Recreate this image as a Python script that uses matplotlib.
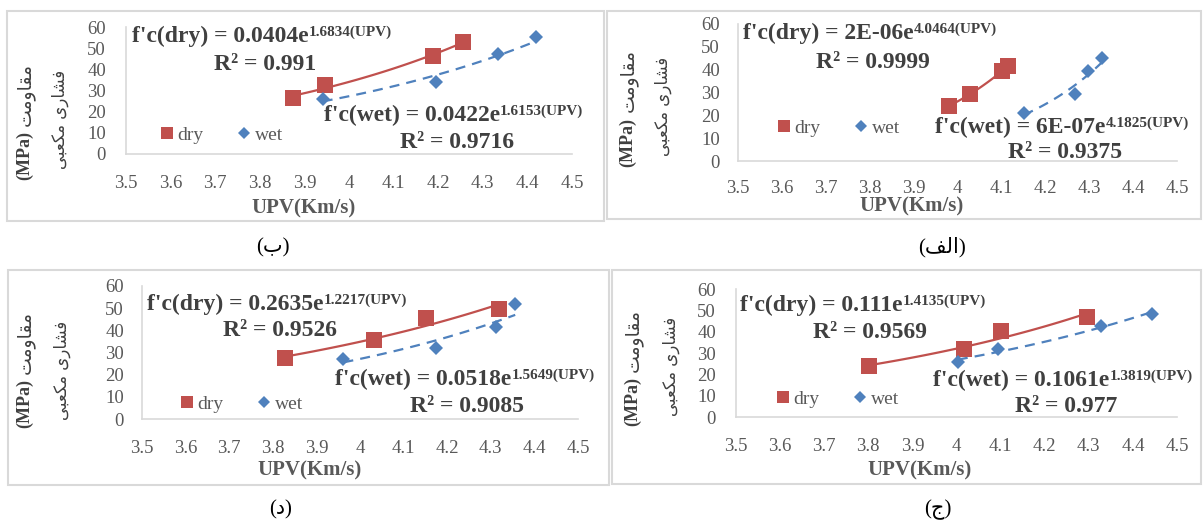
import numpy as np
import matplotlib.pyplot as plt
from matplotlib.lines import Line2D
from matplotlib.patches import Rectangle

plt.rcParams['font.family'] = ['Liberation Serif', 'DejaVu Sans']

W, H = 1203, 525
DRY = '#C0504D'
WET = '#4F81BD'
TXT = '#404040'
TICK = '#595959'
LINE = '#D9D9D9'

x_ticks = [3.5, 3.6, 3.7, 3.8, 3.9, 4.0, 4.1, 4.2, 4.3, 4.4, 4.5]
x_tick_labels = ['3.5', '3.6', '3.7', '3.8', '3.9', '4', '4.1', '4.2', '4.3', '4.4', '4.5']
y_ticks = [0, 10, 20, 30, 40, 50, 60]
x_label = 'UPV(Km/s)'
legend_labels = ['dry', 'wet']

# Persian text, already in visual order with presentation forms
ylab_unit = '(MPa)'
ylab_word = '\uFE96\uFEE3\uFEED\uFE8E\uFED8\uFEE3'                       # مقاومت
ylab_line2 = '\uFEF0\uFE92\uFECC\uFB91\uFEE3 \uFEEF\uFEAD\uFE8E\uFEB8\uFED3'  # فشاری مکعبی

# panel (ب) - top left
b_dry_x = [3.874, 3.946, 4.188, 4.256]
b_dry_y = [26.5, 32.6, 46.3, 52.8]
b_wet_x = [3.941, 4.195, 4.334, 4.419]
b_wet_y = [25.8, 34.2, 47.2, 55.1]
b_dry_eq = ["f'c(dry) = 0.0404e", '1.6834(UPV)', 'R² = 0.991']
b_wet_eq = ["f'c(wet) = 0.0422e", '1.6153(UPV)', 'R² = 0.9716']
b_caption = '(\uFE8F)'

# panel (الف) - top right
a_dry_x = [3.981, 4.028, 4.101, 4.115]
a_dry_y = [24.1, 29.3, 39.4, 41.6]
a_wet_x = [4.151, 4.268, 4.297, 4.329]
a_wet_y = [20.9, 29.2, 39.6, 45.2]
a_dry_eq = ["f'c(dry) = 2E-06e", '4.0464(UPV)', 'R² = 0.9999']
a_wet_eq = ["f'c(wet) = 6E-07e", '4.1825(UPV)', 'R² = 0.9375']
a_caption = '(\uFED2\uFEDF\uFE8D)'

# panel (د) - bottom left
d_dry_x = [3.828, 4.032, 4.151, 4.319]
d_dry_y = [27.7, 35.5, 45.6, 49.5]
d_wet_x = [3.962, 4.174, 4.312, 4.356]
d_wet_y = [26.9, 32.2, 41.5, 52.0]
d_dry_eq = ["f'c(dry) = 0.2635e", '1.2217(UPV)', 'R² = 0.9526']
d_wet_eq = ["f'c(wet) = 0.0518e", '1.5649(UPV)', 'R² = 0.9085']
d_caption = '(\uFEA9)'

# panel (ج) - bottom right
j_dry_x = [3.801, 4.017, 4.102, 4.297]
j_dry_y = [23.9, 31.7, 40.3, 46.9]
j_wet_x = [4.003, 4.093, 4.328, 4.444]
j_wet_y = [25.8, 32.0, 42.5, 48.4]
j_dry_eq = ["f'c(dry) = 0.111e", '1.4135(UPV)', 'R² = 0.9569']
j_wet_eq = ["f'c(wet) = 0.1061e", '1.3819(UPV)', 'R² = 0.977']
j_caption = '(\uFE9D)'

panels = [
    dict(dry=(b_dry_x, b_dry_y), wet=(b_wet_x, b_wet_y), deq=b_dry_eq, weq=b_wet_eq, cap=b_caption,
         ax=(126, 27, 572, 154), box=(7, 11, 604, 221), cap_xy=(273, 248), xlab=(304, 208),
         unit=(25, 156), word=(25, 95), line2=(60, 119), ypad=20, xpad=15,
         deq_xy=(132, 36), dr2=(265, 65), weq_xy=(324, 115), wr2=(457, 142), leg=(159, 135)),
    dict(dry=(a_dry_x, a_dry_y), wet=(a_wet_x, a_wet_y), deq=a_dry_eq, weq=a_wet_eq, cap=a_caption,
         ax=(738, 24, 1177, 161), box=(607, 11, 1201, 219), cap_xy=(942, 247), xlab=(912, 206),
         unit=(628, 142), word=(628, 80), line2=(663, 106), ypad=18, xpad=14,
         deq_xy=(743, 33), dr2=(873, 62), weq_xy=(935, 127), wr2=(1065, 153), leg=(776, 128)),
    dict(dry=(d_dry_x, d_dry_y), wet=(d_wet_x, d_wet_y), deq=d_dry_eq, weq=d_wet_eq, cap=d_caption,
         ax=(142, 286, 578, 419), box=(8, 270, 609, 485), cap_xy=(281, 510), xlab=(310, 470),
         unit=(25, 403), word=(25, 342), line2=(62, 370), ypad=18, xpad=15,
         deq_xy=(147, 304), dr2=(280, 330), weq_xy=(335, 379), wr2=(467, 407), leg=(179, 404)),
    dict(dry=(j_dry_x, j_dry_y), wet=(j_wet_x, j_wet_y), deq=j_dry_eq, weq=j_wet_eq, cap=j_caption,
         ax=(736, 289, 1177, 417), box=(612, 270, 1201, 484), cap_xy=(938, 510), xlab=(920, 470),
         unit=(633, 401), word=(633, 340), line2=(671, 366), ypad=20, xpad=15,
         deq_xy=(740, 305), dr2=(870, 332), weq_xy=(933, 380), wr2=(1066, 407), leg=(775, 399)),
]

fig = plt.figure(figsize=(W / 100, H / 100), dpi=100)


def fx(x):
    return x / W


def fy(y):
    return 1 - y / H


def equation(ax, pos, parts):
    main = fig.text(fx(pos[0]), fy(pos[1]), parts[0], ha='left', va='center',
                    fontsize=17, fontweight='bold', color=TXT)
    ax.annotate(parts[1], xy=(1, 0.5), xycoords=main, xytext=(0, 3), textcoords='offset points',
                ha='left', va='center', fontsize=11, fontweight='bold', color=TXT)


for p in panels:
    l, t, r, b = p['ax']
    ax = fig.add_axes([fx(l), fy(b), (r - l) / W, (b - t) / H])
    ax.set_xlim(3.5, 4.5)
    ax.set_ylim(0, 60)
    ax.set_facecolor('none')
    for s in ['top', 'right']:
        ax.spines[s].set_visible(False)
    for s in ['left', 'bottom']:
        ax.spines[s].set_color(LINE)
        ax.spines[s].set_linewidth(1.2)
    ax.set_xticks(x_ticks)
    ax.set_xticklabels(x_tick_labels)
    ax.set_yticks(y_ticks)
    ax.tick_params(length=0, labelsize=13.5, labelcolor=TICK)
    ax.tick_params(axis='x', pad=p['xpad'])
    ax.tick_params(axis='y', pad=p['ypad'] * 0.72)

    dx, dy = p['dry']
    wx, wy = p['wet']
    ax.plot(dx, dy, 's', color=DRY, markersize=12, markeredgewidth=0, zorder=3)
    ax.plot(wx, wy, 'D', color=WET, markersize=7.6, markeredgewidth=0, zorder=3)

    # exponential trendlines (least squares on ln y, as the spreadsheet does)
    for xs, ys, col, ls in [(dx, dy, DRY, '-'), (wx, wy, WET, (0, (4.5, 3.2)))]:
        k, c = np.polyfit(xs, np.log(ys), 1)
        xx = np.linspace(min(xs), max(xs), 60)
        ax.plot(xx, np.exp(c) * np.exp(k * xx), color=col, lw=1.6, linestyle=ls, zorder=4)

    equation(ax, p['deq_xy'], p['deq'])
    equation(ax, p['weq_xy'], p['weq'])
    fig.text(fx(p['dr2'][0]), fy(p['dr2'][1]), p['deq'][2], ha='center', va='center',
             fontsize=17, fontweight='bold', color=TXT)
    fig.text(fx(p['wr2'][0]), fy(p['wr2'][1]), p['weq'][2], ha='center', va='center',
             fontsize=17, fontweight='bold', color=TXT)

    handles = [Line2D([], [], marker='s', color=DRY, linestyle='none', markersize=8.4, markeredgewidth=0),
               Line2D([], [], marker='D', color=WET, linestyle='none', markersize=6, markeredgewidth=0)]
    lx = (p['leg'][0] - l) / (r - l)
    ly = (b - p['leg'][1]) / (b - t)
    leg = ax.legend(handles, legend_labels, loc='center left', bbox_to_anchor=(lx, ly), ncol=2,
                    frameon=False, fontsize=14, handlelength=0.8, handletextpad=0.15,
                    columnspacing=1.7, borderpad=0, borderaxespad=0)
    for tx in leg.get_texts():
        tx.set_color(TICK)

    fig.text(fx(p['xlab'][0]), fy(p['xlab'][1]), x_label, ha='center', va='center',
             fontsize=15, fontweight='bold', color=TICK)
    fig.text(fx(p['unit'][0]), fy(p['unit'][1]), ylab_unit, rotation=90, ha='center', va='center',
             fontsize=13, fontweight='bold', color=TXT)
    fig.text(fx(p['word'][0]), fy(p['word'][1]), ylab_word, rotation=90, ha='center', va='center',
             fontsize=13.5, family='DejaVu Sans', color=TXT)
    fig.text(fx(p['line2'][0]), fy(p['line2'][1]), ylab_line2, rotation=90, ha='center', va='center',
             fontsize=12, family='DejaVu Sans', color=TXT)

    bl, bt, br, bb = p['box']
    fig.add_artist(Rectangle((fx(bl), fy(bb)), (br - bl) / W, (bb - bt) / H, transform=fig.transFigure,
                             fill=False, edgecolor=LINE, linewidth=1.5))
    fig.text(fx(p['cap_xy'][0]), fy(p['cap_xy'][1]), p['cap'], ha='center', va='center',
             fontsize=15, color='black')

fig.savefig('out.png', dpi=100)
